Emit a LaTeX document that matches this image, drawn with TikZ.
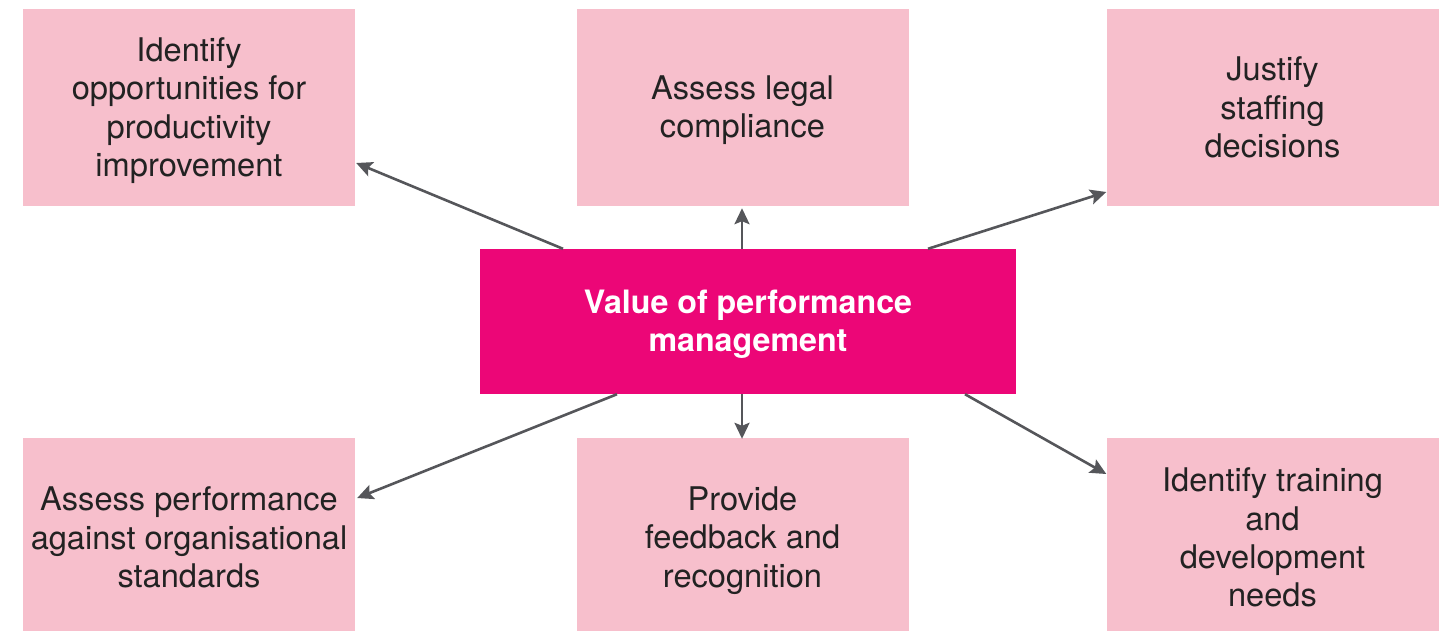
\documentclass[tikz,border=0pt]{standalone}
\usepackage{fontspec}
\setmainfont{TeX Gyre Heros}
\usetikzlibrary{arrows.meta}
\definecolor{boxpink}{HTML}{F7BFCC}
\definecolor{hotpink}{HTML}{EC0677}
\definecolor{txtgray}{HTML}{222222}
\definecolor{arrgray}{HTML}{55565A}
\tikzset{
  outer/.style={fill=boxpink, draw=none, minimum width=332pt, minimum height=197pt, inner sep=0pt},
  core/.style={fill=hotpink, draw=none, minimum width=536pt, minimum height=145pt, inner sep=0pt},
  otxt/.style={align=center, text=txtgray, inner sep=0pt, yshift=-3pt,
    font=\fontsize{32.6}{38.3}\selectfont},
  ctxt/.style={align=center, text=white, inner sep=0pt, yshift=-3pt,
    font=\fontsize{32.2}{38}\selectfont\bfseries},
  arr/.style={draw=arrgray, line width=2.6pt, -{Stealth[length=16pt,width=15pt,inset=3pt]}}
}
\begin{document}
\begin{tikzpicture}[x=1pt,y=-1pt]
\useasboundingbox (0,0) rectangle (1448,632);
\node[core, label={[ctxt]center:Value of performance\\management}] (c) at (748,321.5) {};
\node[outer, label={[otxt]center:Identify\\opportunities for\\productivity\\improvement}] (tl) at (189,107.5) {};
\node[outer, label={[otxt]center:Assess legal\\compliance}] (tc) at (742.5,107.5) {};
\node[outer, label={[otxt,yshift=3pt]center:Justify\\staffing\\decisions}] (tr) at (1272.5,107.5) {};
\node[outer, minimum height=193pt, label={[otxt]center:Assess performance\\against organisational\\standards}] (bl) at (189,534.5) {};
\node[outer, minimum height=193pt, label={[otxt,yshift=-3pt]center:Provide\\feedback and\\recognition}] (bc) at (742.5,534.5) {};
\node[outer, minimum height=193pt, label={[otxt]center:Identify training\\and\\development\\needs}] (br) at (1272.5,534.5) {};
\draw[arr] ([xshift=-185pt]c.north) -- ([yshift=-55.5pt,xshift=1pt]tl.east);
\draw[arr] ([xshift=-6pt]c.north) -- ([xshift=-0.5pt,yshift=-2pt]tc.south);
\draw[arr] ([xshift=180pt]c.north) -- ([yshift=-84.5pt]tr.west);
\draw[arr] ([xshift=-131pt]c.south) -- ([yshift=36.5pt,xshift=2pt]bl.east);
\draw[arr] ([xshift=-6pt]c.south) -- ([xshift=-0.5pt,yshift=-1pt]bc.north);
\draw[arr] ([xshift=217pt]c.south) -- ([yshift=60.5pt]br.west);
\end{tikzpicture}
\end{document}
